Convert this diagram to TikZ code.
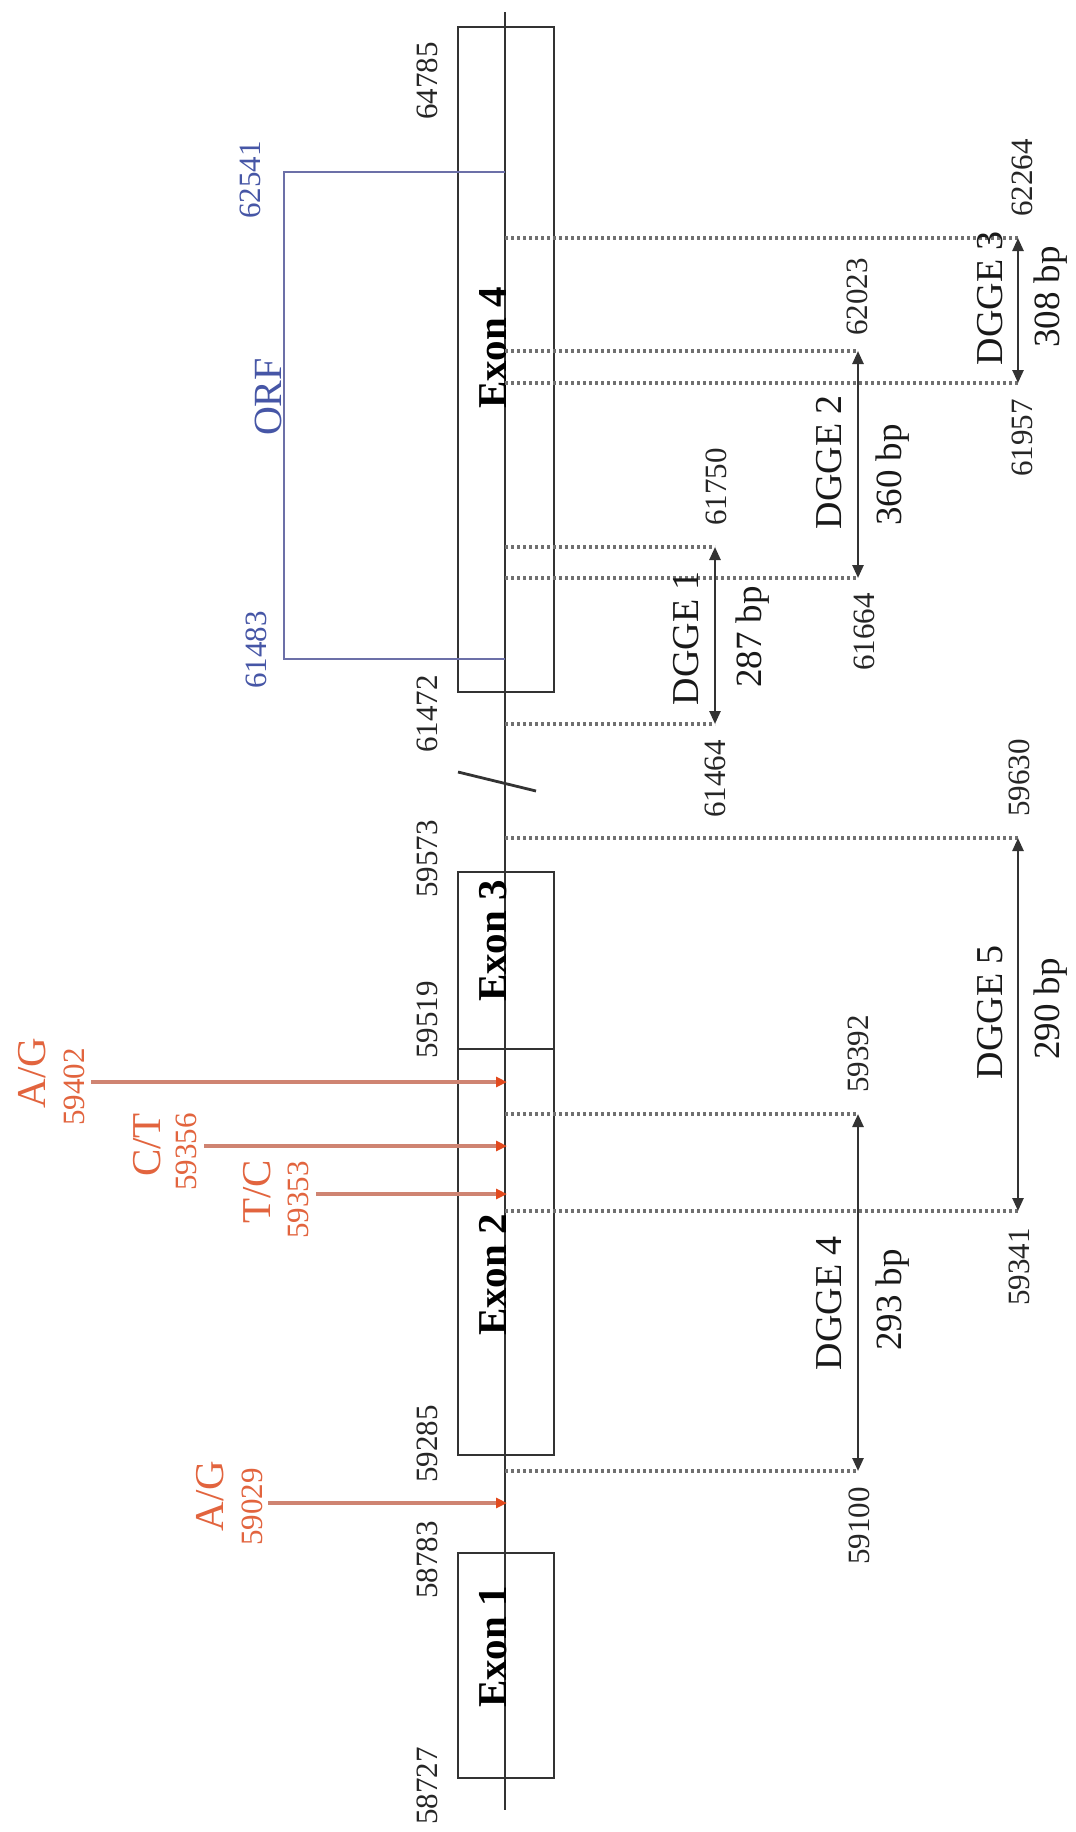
\documentclass[tikz,border=0pt]{standalone}
\usepackage{fontspec}
\setmainfont{Liberation Serif}
\usetikzlibrary{arrows.meta}
\definecolor{lnc}{HTML}{333333}
\definecolor{dotc}{HTML}{707070}
\definecolor{orft}{HTML}{4656A6}
\definecolor{orfl}{HTML}{6C70A8}
\definecolor{mutt}{HTML}{E2643E}
\definecolor{mutl}{HTML}{CF8472}
\definecolor{muta}{HTML}{E24A1E}
\begin{document}
\begin{tikzpicture}[x=1pt,y=-1pt,
  numlab/.style={rotate=90,inner sep=0pt,text=black!85,font=\fontsize{31}{37}\selectfont},
  orfnum/.style={numlab,text=orft},
  mutnum/.style={numlab,text=mutt},
  mutlet/.style={rotate=90,inner sep=0pt,text=mutt,font=\fontsize{41}{48}\selectfont},
  exonlab/.style={rotate=90,inner sep=0pt,font=\fontsize{41}{48}\selectfont\bfseries},
  dggelab/.style={rotate=90,inner sep=0pt,text=black!90,font=\fontsize{38}{45}\selectfont},
  bplab/.style={rotate=90,inner sep=0pt,text=black!90,font=\fontsize{37}{44}\selectfont},
  orflab/.style={rotate=90,inner sep=0pt,text=orft,font=\fontsize{40}{48}\selectfont},
  boxline/.style={draw=lnc,line width=2.8pt},
  mainline/.style={draw=lnc,line width=2.8pt},
  dotline/.style={draw=dotc,line width=3.5pt,dash pattern=on 3pt off 3pt},
  dggearrow/.style={draw=lnc,line width=2.5pt,{Triangle[length=13pt,width=11pt]}-{Triangle[length=13pt,width=11pt]}},
  mutline/.style={draw=mutl,line width=3.2pt,-{Triangle[length=11pt,width=10pt,color=muta]}},
  orfline/.style={draw=orfl,line width=2.4pt}
]
\useasboundingbox (0,0) rectangle (1076,1832);
\fill[white] (0,0) rectangle (1076,1832);

% exon boxes
\draw[boxline] (458,27) rectangle (554,692);
\draw[boxline] (458,872) rectangle (554,1455);
\draw[boxline] (458,1049) -- (554,1049);
\draw[boxline] (458,1553) rectangle (554,1778);

% main line
\coordinate (top) at (505,12);
\coordinate (bot) at (505,1810);
\draw[mainline] (top) -- (bot);
% break mark
\coordinate (bk1) at (458,772);
\coordinate (bk2) at (536,791);
\draw[mainline] (bk1) -- (bk2);

% exon labels
\node[exonlab] (ex4) at (493,348) {Exon 4};
\node[exonlab] (ex3) at (493,941) {Exon 3};
\node[exonlab] (ex2) at (493,1275) {Exon 2};
\node[exonlab] (ex1) at (493,1647) {Exon 1};

% coordinates of boxes
\node[numlab] (n64785) at (427,81) {64785};
\node[numlab] (n61472) at (427,714) {61472};
\node[numlab] (n59573) at (427,859) {59573};
\node[numlab] (n59519) at (427,1020) {59519};
\node[numlab] (n59285) at (427,1444) {59285};
\node[numlab] (n58783) at (427,1560) {58783};
\node[numlab] (n58727) at (427,1786) {58727};

% ORF
\coordinate (orfa) at (505,172);
\coordinate (orfb) at (284,172);
\coordinate (orfc) at (284,659);
\coordinate (orfd) at (505,659);
\draw[orfline] (orfa) -- (orfb) -- (orfc) -- (orfd);
\node[orflab] (orf) at (268,397) {ORF};
\node[orfnum] (n62541) at (250,180) {62541};
\node[orfnum] (n61483) at (256,650) {61483};

% dotted guides
\foreach \nm/\yy/\xx in {62264/238/1018, 62023/351/858, 61957/383/1018,
  61750/547/715, 61664/578/858, 61464/724/715,
  59630/838/1018, 59392/1114/858, 59341/1211/1018, 59100/1471/858}{
  \coordinate (s\nm) at (505,\yy);
  \coordinate (e\nm) at (\xx,\yy);
  \draw[dotline] (s\nm) -- (e\nm);
}

% DGGE arrows
\draw[dggearrow] (e61957) -- (e62264);
\draw[dggearrow] (e61664) -- (e62023);
\draw[dggearrow] (e61464) -- (e61750);
\draw[dggearrow] (e59341) -- (e59630);
\draw[dggearrow] (e59100) -- (e59392);

% DGGE labels
\node[dggelab] (dg3) at (990,298) {DGGE 3};
\node[bplab] (bp3) at (1051,297) {308 bp};
\node[dggelab] (dg2) at (829,462) {DGGE 2};
\node[bplab] (bp2) at (893,475) {360 bp};
\node[dggelab] (dg1) at (686,638) {DGGE 1};
\node[bplab] (bp1) at (753,637) {287 bp};
\node[dggelab] (dg5) at (990,1012) {DGGE 5};
\node[bplab] (bp5) at (1051,1009) {290 bp};
\node[dggelab] (dg4) at (829,1303) {DGGE 4};
\node[bplab] (bp4) at (893,1300) {293 bp};

% DGGE coordinates
\node[numlab] (n62264) at (1022,178) {62264};
\node[numlab] (n62023) at (857,297) {62023};
\node[numlab] (n61957) at (1022,438) {61957};
\node[numlab] (n61750) at (716,487) {61750};
\node[numlab] (n61664) at (864,632) {61664};
\node[numlab] (n61464) at (715,779) {61464};
\node[numlab] (n59630) at (1019,778) {59630};
\node[numlab] (n59392) at (858,1054) {59392};
\node[numlab] (n59341) at (1019,1267) {59341};
\node[numlab] (n59100) at (859,1526) {59100};

% mutations
\coordinate (ma1) at (91,1082);   \coordinate (mb1) at (507,1082);
\coordinate (ma2) at (204,1146);  \coordinate (mb2) at (507,1146);
\coordinate (ma3) at (316,1194);  \coordinate (mb3) at (507,1194);
\coordinate (ma4) at (268,1503);  \coordinate (mb4) at (507,1503);
\draw[mutline] (ma1) -- (mb1);
\draw[mutline] (ma2) -- (mb2);
\draw[mutline] (ma3) -- (mb3);
\draw[mutline] (ma4) -- (mb4);
\node[mutlet] (m1) at (32,1073) {A/G};
\node[mutnum] (mn1) at (74,1087) {59402};
\node[mutlet] (m2) at (147,1145) {C/T};
\node[mutnum] (mn2) at (186,1152) {59356};
\node[mutlet] (m3) at (257,1192) {T/C};
\node[mutnum] (mn3) at (298,1200) {59353};
\node[mutlet] (m4) at (210,1496) {A/G};
\node[mutnum] (mn4) at (252,1507) {59029};
\end{tikzpicture}
\end{document}
